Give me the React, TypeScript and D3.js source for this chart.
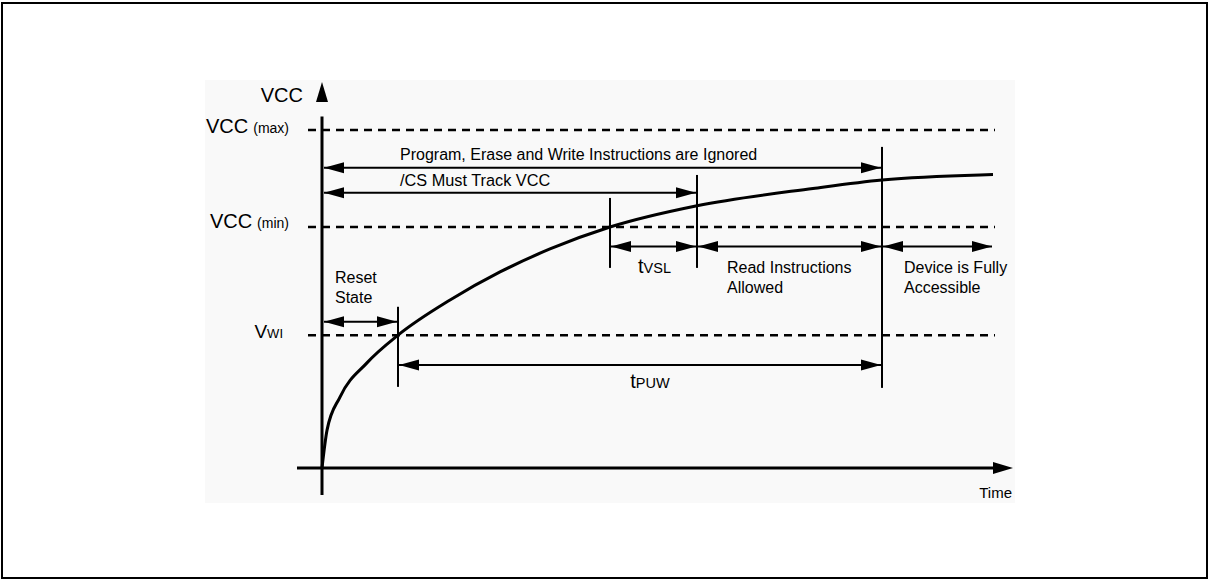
import React from "react";
import * as d3 from "d3";

// ---- data ----
const levelKeys = ["max", "min", "wi"];
const levelValues = [100, 71.3, 39.3];

const curveT = [0, 0.75, 2.68, 6.7, 11.33, 19.08, 26.53, 33.98, 42.92, 55.89, 73.17, 83.46, 98.06, 100];
const curveV = [0, 11.2, 21.0, 31.1, 39.3, 49.7, 58.0, 64.8, 71.3, 77.6, 82.7, 85.2, 86.7, 86.8];

// marker lines: time, top value, bottom value
const markerT = [11.33, 42.92, 55.89, 83.46];
const markerTop = [47.7, 79.9, 86.7, 95.0];
const markerBottom = [24.0, 59.2, 59.2, 23.7];

// dimension arrows: from time, to time, level value
const arrowFrom = [0, 0, 42.92, 55.89, 83.46, 0, 11.33];
const arrowTo = [83.46, 55.89, 55.89, 83.46, 100, 11.33, 83.46];
const arrowV = [88.8, 81.4, 65.5, 65.5, 65.5, 43.3, 30.5];

const W = 1210;
const H = 580;
const FONT = "'Liberation Sans', Arial, Helvetica, sans-serif";

export default function App() {
  const x = d3.scaleLinear().domain([0, 100]).range([322, 993]);
  const y = d3.scaleLinear().domain([0, 100]).range([468, 130]);

  const line = d3
    .line<number>()
    .x((_, i) => x(curveT[i]))
    .y((d) => y(d))
    .curve(d3.curveMonotoneX);

  const headLen = 20;
  const headHalf = 5.5;

  const arrowHead = (tipX: number, tipY: number, dir: number) =>
    `M${tipX},${tipY} L${tipX - dir * headLen},${tipY - headHalf} L${tipX - dir * headLen},${tipY + headHalf} Z`;

  const x0 = x(0);
  const y0 = y(0);

  return (
    <svg
      width={W}
      height={H}
      style={{ position: "absolute", left: 0, top: 0, background: "#fff" }}
      fontFamily={FONT}
    >
      <rect x={0} y={0} width={W} height={H} fill="#fff" />
      {/* picture background */}
      <rect x={205} y={80} width={810} height={423} fill="#f9f9f9" />
      {/* outer frame */}
      <rect x={2} y={3} width={1205} height={575} fill="none" stroke="#000" strokeWidth={2} />

      {/* dashed level lines */}
      {levelValues.map((v, i) => (
        <line
          key={levelKeys[i]}
          x1={308}
          x2={995}
          y1={y(v)}
          y2={y(v)}
          stroke="#000"
          strokeWidth={2.5}
          strokeDasharray="8,6"
        />
      ))}

      {/* axes */}
      <line x1={x0} x2={x0} y1={495} y2={y(104)} stroke="#000" strokeWidth={3} />
      <path d={`M${x0},82 L${x0 - 6},${102} L${x0 + 6},${102} Z`} fill="#000" />
      <line x1={297} x2={x(100) + 2} y1={y0} y2={y0} stroke="#000" strokeWidth={3} />
      <path d={`M1013,${y0} L${993},${y0 - 6} L${993},${y0 + 6} Z`} fill="#000" />

      {/* curve */}
      <path d={line(curveV) || ""} fill="none" stroke="#000" strokeWidth={3} />

      {/* marker lines */}
      {markerT.map((t, i) => (
        <line
          key={"m" + i}
          x1={x(t)}
          x2={x(t)}
          y1={y(markerTop[i])}
          y2={y(markerBottom[i])}
          stroke="#000"
          strokeWidth={2}
        />
      ))}

      {/* dimension arrows */}
      {arrowFrom.map((f, i) => {
        const xa = x(f) + (f === 0 ? 2 : 1);
        const xb = x(arrowTo[i]) - 1;
        const yy = y(arrowV[i]);
        return (
          <g key={"a" + i}>
            <line x1={xa} x2={xb} y1={yy} y2={yy} stroke="#000" strokeWidth={2} />
            <path d={arrowHead(xa, yy, -1)} fill="#000" />
            <path d={arrowHead(xb, yy, 1)} fill="#000" />
          </g>
        );
      })}

      {/* labels */}
      <g fill="#000">
        <text x={303} y={102} fontSize={20} textAnchor="end">VCC</text>
        <text x={289} y={y(levelValues[0]) + 3} textAnchor="end">
          <tspan fontSize={20}>VCC</tspan>
          <tspan fontSize={14} dx={5}>(max)</tspan>
        </text>
        <text x={289} y={y(levelValues[1]) + 1} textAnchor="end">
          <tspan fontSize={20}>VCC</tspan>
          <tspan fontSize={14} dx={5}>(min)</tspan>
        </text>
        <text x={283} y={y(levelValues[2]) + 3} textAnchor="end">
          <tspan fontSize={19}>V</tspan>
          <tspan fontSize={13}>WI</tspan>
        </text>

        <text x={400} y={y(arrowV[0]) - 8} fontSize={16}>
          Program, Erase and Write Instructions are Ignored
        </text>
        <text x={400} y={y(arrowV[1]) - 7} fontSize={16.3}>
          /CS Must Track VCC
        </text>

        <text x={335} y={283} fontSize={16}>Reset</text>
        <text x={335} y={303} fontSize={16}>State</text>

        <text x={(x(42.92) + x(55.89)) / 2 + 1} y={273} textAnchor="middle">
          <tspan fontSize={20}>t</tspan>
          <tspan fontSize={14.5}>VSL</tspan>
        </text>
        <text x={727} y={273} fontSize={16}>Read Instructions</text>
        <text x={727} y={293} fontSize={16}>Allowed</text>
        <text x={904} y={273} fontSize={16}>Device is Fully</text>
        <text x={904} y={293} fontSize={16}>Accessible</text>

        <text x={650} y={388} textAnchor="middle">
          <tspan fontSize={20}>t</tspan>
          <tspan fontSize={14.5}>PUW</tspan>
        </text>

        <text x={1012} y={498} fontSize={15} textAnchor="end">Time</text>
      </g>
    </svg>
  );
}
